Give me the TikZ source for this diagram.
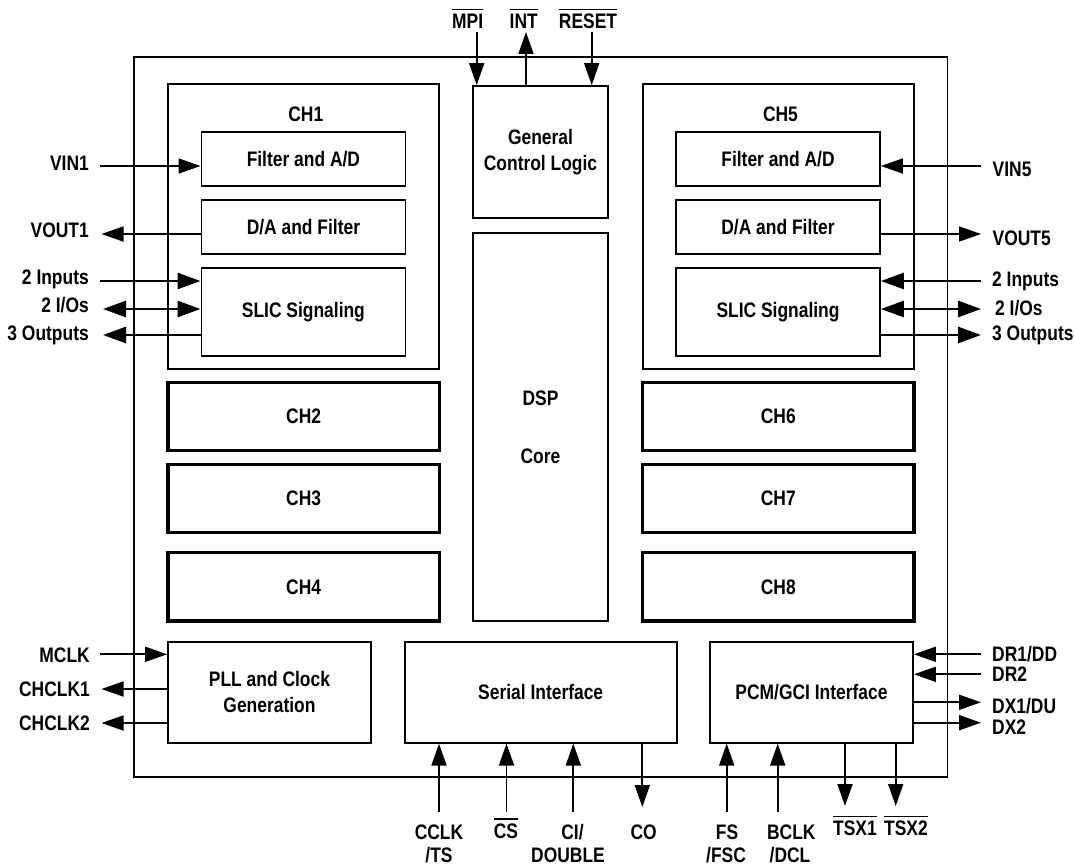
\documentclass[tikz,border=0pt]{standalone}
\usepackage{fontspec}
\setmainfont{Liberation Sans}[FakeStretch=0.83]
\usetikzlibrary{positioning, arrows.meta}
\newcommand{\ovl}[1]{\leavevmode\vbox{\hrule height 1.5pt\kern 3.5pt\hbox{#1}}}

\begin{document}
\begin{tikzpicture}[
  x=1pt, y=-1pt,
  every node/.style={font=\fontsize{21}{26}\selectfont\bfseries, inner sep=0pt},
  blk/.style={rectangle, draw, line width=1.8pt, align=center},
  chan/.style={rectangle, draw, line width=3.2pt, minimum width=271.3pt, minimum height=68.2pt},
  sub/.style={blk, minimum width=204pt},
  arrow/.style={-{Triangle[length=22pt, width=15pt]}, line width=1.8pt},
  bus/.style={-{Triangle[length=23pt, width=16pt]}, line width=2.8pt},
  dblbus/.style={{Triangle[length=23pt, width=16pt]}-{Triangle[length=23pt, width=16pt]}, line width=2.8pt},
  pinL/.style={anchor=base east},
  pinR/.style={anchor=base west},
  pinB/.style={anchor=base, align=center}
]
  \useasboundingbox (0,0) rectangle (1074,867);

  % Chip outline
  \node[blk, minimum width=813.2pt, minimum height=720.5pt] (chip) at (540.9,417) {};

  % Channel 1
  \node[blk, minimum width=271.3pt, minimum height=285pt] (ch1) at (303.6,226.8) {};
  \node (title1) at (305.8,114.3) {CH1};
  \node[sub, minimum height=54pt] (fad1) at (303.4,158.7) {Filter and A/D};
  \node[sub, minimum height=54pt] (daf1) at (303.4,227) {D/A and Filter};
  \node[sub, minimum height=88.3pt] (slic1) at (303.4,311.9) {SLIC Signaling};

  % Channel 5
  \node[blk, minimum width=271.3pt, minimum height=285pt] (ch5) at (778.3,226.8) {};
  \node (title5) at (780.5,114.3) {CH5};
  \node[sub, minimum height=54pt] (fad5) at (778,158.7) {Filter and A/D};
  \node[sub, minimum height=54pt] (daf5) at (778,227) {D/A and Filter};
  \node[sub, minimum height=88.3pt] (slic5) at (778,311.9) {SLIC Signaling};

  % Other channels
  \node[chan] (ch2) at (303.6,416.7) {CH2};
  \node[chan] (ch3) at (303.6,498.5) {CH3};
  \node[chan] (ch4) at (303.6,586.9) {CH4};
  \node[chan] (ch6) at (778.3,416.7) {CH6};
  \node[chan] (ch7) at (778.3,498.5) {CH7};
  \node[chan] (ch8) at (778.3,586.9) {CH8};

  % Centre column
  \node[blk, minimum width=135.6pt, minimum height=132.3pt] (gcl) at (540.5,152.2) {General\\Control Logic};
  \node[blk, minimum width=135.6pt, minimum height=387.7pt] (dsp) at (540.5,427.2) {DSP\\[32pt]Core};

  % Bottom row
  \node[blk, minimum width=203pt, minimum height=101pt] (pll) at (269.5,692.2) {PLL and Clock\\Generation};
  \node[blk, minimum width=272.2pt, minimum height=101pt] (ser) at (540.7,692.2) {Serial Interface};
  \node[blk, minimum width=203pt, minimum height=101pt] (pcm) at (811.5,692.2) {PCM/GCI Interface};

  % Pins, left side
  \coordinate (pVin1) at (100,166);
  \coordinate (pVout1) at (101.5,234);
  \coordinate (pIn1) at (100,281);
  \coordinate (pIo1) at (103,309);
  \coordinate (pOut1) at (103,335);
  \node[pinL] (labelVin1) at (89,170) {VIN1};
  \node[pinL] (labelVout1) at (89,237.3) {VOUT1};
  \node[pinL] (labelIn1) at (89,284) {2 Inputs};
  \node[pinL] (labelIo1) at (89,312.3) {2 I/Os};
  \node[pinL] (labelOut1) at (89,340) {3 Outputs};
  \draw[arrow] (pVin1) -- (fad1.west |- pVin1);
  \draw[arrow] (daf1.west |- pVout1) -- (pVout1);
  \draw[bus] (pIn1) -- (slic1.west |- pIn1);
  \draw[dblbus] (pIo1) -- (slic1.west |- pIo1);
  \draw[bus] (slic1.west |- pOut1) -- (pOut1);

  \coordinate (pMclk) at (100,654.3);
  \coordinate (pChclk1) at (101.5,689);
  \coordinate (pChclk2) at (101.5,723);
  \node[pinL] (labelMclk) at (90,662.3) {MCLK};
  \node[pinL] (labelChclk1) at (90,696.5) {CHCLK1};
  \node[pinL] (labelChclk2) at (90,730.5) {CHCLK2};
  \draw[arrow] (pMclk) -- (pll.west |- pMclk);
  \draw[arrow] (pll.west |- pChclk1) -- (pChclk1);
  \draw[arrow] (pll.west |- pChclk2) -- (pChclk2);

  % Pins, right side
  \coordinate (pVin5) at (981,166);
  \coordinate (pVout5) at (981,234);
  \coordinate (pIn5) at (981,281);
  \coordinate (pIo5) at (981,309);
  \coordinate (pOut5) at (981,335);
  \node[pinR] (labelVin5) at (992.5,176.7) {VIN5};
  \node[pinR] (labelVout5) at (992.5,245) {VOUT5};
  \node[pinR] (labelIn5) at (992,286.7) {2 Inputs};
  \node[pinR] (labelIo5) at (995,315) {2 I/Os};
  \node[pinR] (labelOut5) at (992,340) {3 Outputs};
  \draw[arrow] (pVin5) -- (fad5.east |- pVin5);
  \draw[arrow] (daf5.east |- pVout5) -- (pVout5);
  \draw[bus] (pIn5) -- (slic5.east |- pIn5);
  \draw[dblbus] (pIo5) -- (slic5.east |- pIo5);
  \draw[bus] (slic5.east |- pOut5) -- (pOut5);

  \coordinate (pDr1) at (981,654.3);
  \coordinate (pDr2) at (981,674.3);
  \coordinate (pDx1) at (981,702.3);
  \coordinate (pDx2) at (981,722.7);
  \node[pinR] (labelDr1) at (992,661.7) {DR1/DD};
  \node[pinR] (labelDr2) at (992,681.7) {DR2};
  \node[pinR] (labelDx1) at (992,713.3) {DX1/DU};
  \node[pinR] (labelDx2) at (992,734) {DX2};
  \draw[arrow] (pDr1) -- (pcm.east |- pDr1);
  \draw[arrow] (pDr2) -- (pcm.east |- pDr2);
  \draw[arrow] (pcm.east |- pDx1) -- (pDx1);
  \draw[arrow] (pcm.east |- pDx2) -- (pDx2);

  % Pins, top
  \coordinate (pMpi) at (476.7,32);
  \coordinate (pInt) at (526,32);
  \coordinate (pReset) at (591.7,32);
  \node[pinB] (labelMpi) at (467.7,28.3) {\ovl{MPI}};
  \node[pinB] (labelInt) at (523.7,28.3) {\ovl{INT}};
  \node[pinB] (labelReset) at (588,28.3) {\ovl{RESET}};
  \draw[arrow] (pMpi) -- (gcl.north -| pMpi);
  \draw[arrow] (gcl.north -| pInt) -- (pInt);
  \draw[arrow] (pReset) -- (gcl.north -| pReset);

  % Pins, bottom
  \coordinate (pCclk) at (439,811.7);
  \coordinate (pCs) at (506.5,811.7);
  \coordinate (pCi) at (573.3,811.7);
  \coordinate (pCo) at (642.3,807);
  \coordinate (pFs) at (726.7,811.7);
  \coordinate (pBclk) at (777.7,811.7);
  \coordinate (pTsx1) at (845,806);
  \coordinate (pTsx2) at (895.7,806);
  \node[pinB] (labelCclk) at (439,839) {CCLK};
  \node[pinB] (labelTs) at (439,862) {/TS};
  \node[pinB] (labelCs) at (506,838) {\ovl{CS}};
  \node[pinB] (labelCi) at (572.5,839) {CI/};
  \node[pinB] (labelDouble) at (568,862) {DOUBLE};
  \node[pinB] (labelCo) at (643.7,839) {CO};
  \node[pinB] (labelFs) at (727,839) {FS};
  \node[pinB] (labelFsc) at (726,862) {/FSC};
  \node[pinB] (labelBclk) at (791.3,839) {BCLK};
  \node[pinB] (labelDcl) at (790,862) {/DCL};
  \node[pinB] (labelTsx1) at (855,835.5) {\ovl{TSX1}};
  \node[pinB] (labelTsx2) at (906,835.5) {\ovl{TSX2}};
  \draw[arrow] (pCclk) -- (ser.south -| pCclk);
  \draw[arrow] (pCs) -- (ser.south -| pCs);
  \draw[arrow] (pCi) -- (ser.south -| pCi);
  \draw[arrow] (ser.south -| pCo) -- (pCo);
  \draw[arrow] (pFs) -- (pcm.south -| pFs);
  \draw[arrow] (pBclk) -- (pcm.south -| pBclk);
  \draw[arrow] (pcm.south -| pTsx1) -- (pTsx1);
  \draw[arrow] (pcm.south -| pTsx2) -- (pTsx2);

\end{tikzpicture}
\end{document}
